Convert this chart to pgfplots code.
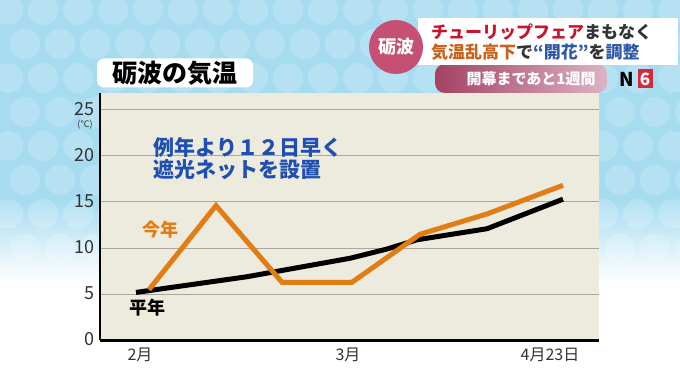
\documentclass[border=0pt]{standalone}
\usepackage{fontspec}
\setmainfont{Noto Sans CJK JP}
\usepackage{pgfplots}
\pgfplotsset{compat=1.18}
\usetikzlibrary{calc}
\definecolor{bgblue}{HTML}{A6DBF0}
\definecolor{plotbg}{HTML}{ECEBDD}
\definecolor{gridc}{HTML}{A9A79B}
\definecolor{orangec}{HTML}{E27D16}
\definecolor{annblue}{HTML}{1F4FB2}
\definecolor{pinkc}{HTML}{C64F74}
\definecolor{redt}{HTML}{C8142F}
\definecolor{brownt}{HTML}{C8621C}
\definecolor{bluet}{HTML}{2D58A6}
\definecolor{darkt}{HTML}{333333}
\definecolor{barL}{HTML}{A24263}
\definecolor{barR}{HTML}{DDB3C3}
\definecolor{nred}{HTML}{D8283C}
\begin{document}
\begin{tikzpicture}[x=1pt,y=1pt]
\useasboundingbox (0,0) rectangle (680,382);
\fill[bgblue] (0,382) rectangle (680,181);
\shade[top color=bgblue, bottom color=white] (0,182) rectangle (680,100);
\fill[white] (0,0) rectangle (680,101);
\begin{scope}
\clip (0,382) rectangle (680,120);
\foreach \i in {0,...,19}{\foreach \j in {0,...,8}{
  \pgfmathsetmacro{\cx}{\i*35+8+mod(\j,2)*17}
  \pgfmathsetmacro{\cy}{382-\j*34-10}
  \fill[white,opacity=0.18] (\cx,\cy) circle (15);}}
\end{scope}
\begin{axis}[
  at={(100,45)}, anchor=south west,
  scale only axis, width=499pt, height=247pt,
  xmin=100, xmax=599, ymin=0, ymax=26.75,
  axis x line*=bottom, axis y line*=left,
  axis line style={line width=2.5pt, black},
  axis background/.style={fill=plotbg},
  ytick={0,5,10,15,20,25},
  ymajorgrids, grid style={gridc, line width=1pt},
  major tick length=0pt,
  xtick={140,348,550}, xticklabels={2月,3月,4月23日},
  /pgf/number format/assume math mode=true,
  yticklabel style={font=\fontsize{18}{18}\selectfont, text=darkt, xshift=-2pt, yshift=1pt},
  xticklabel style={font=\fontsize{16}{16}\selectfont, text=darkt, yshift=-4pt},
  clip=false,
]
\addplot[black, line width=5pt] coordinates {
  (136,5.2) (247,6.9) (350,8.9) (387,9.9) (417,10.9) (487,12.1) (563,15.3)};
\addplot[orangec, line width=5pt] coordinates {
  (149,5.5) (216,14.6) (282,6.3) (352,6.3) (420,11.5) (487,13.7) (563,16.8)};
\end{axis}
% (C) unit
\node[darkt, font=\fontsize{9}{9}\selectfont, inner sep=0pt] at (85,257) {(℃)};
% title
\node[fill=white, rounded corners=7pt, minimum width=156pt, minimum height=29pt] at (175,309) {};
\node[font=\fontsize{25}{25}\selectfont\bfseries, black] at (175,309) {砺波の気温};
% annotations
\node[annblue, anchor=west, font=\fontsize{21}{21}\selectfont\bfseries] at (150,235) {例年より１２日早く};
\node[annblue, anchor=west, font=\fontsize{21}{21}\selectfont\bfseries] at (150,212) {遮光ネットを設置};
\node[orangec, font=\fontsize{18}{18}\selectfont\bfseries] at (160,152) {今年};
\node[black, font=\fontsize{18}{18}\selectfont\bfseries] at (147,74) {平年};
% banner
\shade[left color=barL, right color=barR, rounded corners=10pt] (435,289) rectangle (607,318);
\node[white, font=\fontsize{15}{15}\selectfont\bfseries] at (531,303) {開幕まであと1週間};
\fill[white] (418,364) rectangle (678,317);
\fill[pinkc] (396,335) circle (27);
\node[white, font=\fontsize{18}{18}\selectfont\bfseries] at (396,335) {砺波};
\node[anchor=west, font=\fontsize{17}{17}\selectfont\bfseries, inner sep=0pt] at (431,350) {\textcolor{redt}{チューリップフェア}\textcolor{darkt}{まもなく}};
\node[anchor=west, font=\fontsize{17}{17}\selectfont\bfseries, inner sep=0pt] at (431,330) {\textcolor{brownt}{気温乱高下}\textcolor{darkt}{で}\textcolor{bluet}{“開花”}\textcolor{darkt}{を}\textcolor{bluet}{調整}};
\node[text=black, font=\fontsize{19}{19}\selectfont\bfseries, inner sep=0pt] at (627,303) {N};
\node[fill=nred, text=white, font=\fontsize{17}{17}\selectfont\bfseries, inner sep=1.5pt, minimum width=15pt, minimum height=19pt] at (645,303) {6};
\end{tikzpicture}
\end{document}
